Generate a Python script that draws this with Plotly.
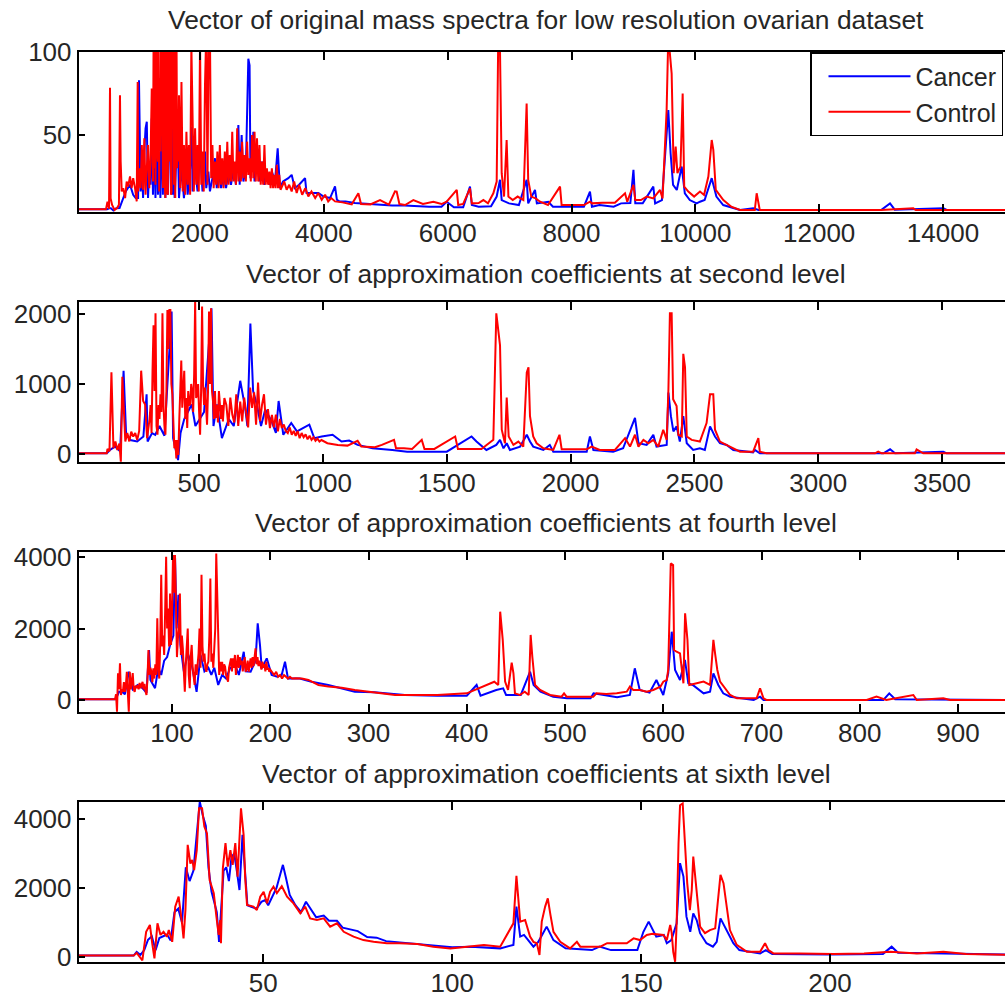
import plotly.graph_objects as go

# ---------------- data ----------------
# Panel 1: original spectra (index, intensity)
P1_CONTROL_X = [1, 480, 505, 530, 546, 556, 580, 620, 660, 690,
                707, 718, 735, 760, 790, 815, 840, 869, 895, 920,
                950, 977, 993,
                1000, 1020, 1040, 1060, 1080, 1100, 1120, 1140, 1160, 1180,
                1200, 1220,
                1240, 1250, 1260, 1270, 1280, 1290, 1300, 1310, 1320, 1330,
                1340, 1350, 1360, 1370, 1380, 1390, 1400, 1410, 1420, 1430,
                1440, 1450, 1460, 1470, 1480, 1490, 1500, 1510, 1520, 1530,
                1540, 1550, 1560, 1570, 1580, 1590, 1600, 1610, 1620, 1630,
                1640, 1650, 1660,
                1680, 1700, 1720, 1740, 1760, 1780,
                1800, 1820, 1840, 1860, 1880, 1900, 1920, 1940, 1960, 1980,
                2000, 2020, 2040, 2060, 2080, 2100, 2120, 2140, 2160, 2180,
                2200, 2220, 2240, 2260, 2280, 2300, 2320, 2340, 2360, 2380,
                2400, 2420, 2440, 2460, 2480, 2500, 2520, 2540, 2560, 2580,
                2600, 2620, 2640, 2660, 2680, 2700, 2720, 2740, 2760, 2780,
                2800, 2820, 2840, 2860, 2880, 2900, 2920, 2940, 2960, 2980,
                3000, 3020, 3040, 3060, 3080, 3100, 3120, 3140, 3160, 3180,
                3200, 3220, 3240, 3260, 3280, 3300,
                3360, 3399, 3440, 3480, 3520, 3561, 3600, 3650, 3700, 3749,
                3800, 3860, 3910, 3965, 4020, 4070, 4120, 4180, 4300,
                4450, 4557, 4600, 4750, 4907, 5050, 5149, 5176, 5220, 5311,
                5445, 5600, 5768, 5900, 5983, 6146, 6170, 6250, 6360, 6390,
                6500, 6576, 6650, 6737, 6791, 6818, 6845, 6872, 6910, 6952,
                6980, 7050, 7130, 7222, 7275, 7300, 7350, 7420, 7492, 7620,
                7814, 7840, 8000, 8200, 8298, 8330, 8500, 8700, 8864, 8900,
                9000, 9030, 9120, 9214, 9320, 9429, 9470, 9536, 9563, 9590,
                9617, 9650, 9682, 9710, 9760, 9795, 9820, 9886, 9980, 10075,
                10140, 10210, 10264, 10290, 10330, 10452, 10580, 10721, 10960, 10990,
                11010, 11040, 12000, 13000, 13520, 13560, 14000, 15154]
P1_CONTROL_Y = [5.2, 5.2, 9.8, 5.5, 78.5, 11.8, 7.8, 4.8, 6, 8,
                74, 34, 16, 18, 12, 22, 19, 25, 18, 24,
                18, 10, 82,
                16, 30, 18, 44, 17, 48, 14, 30, 44, 18,
                34, 78,
                22, 112, 30, 105, 20, 60, 115, 40, 34, 110,
                16, 84, 40, 118, 118, 30, 18, 110, 110, 20,
                12, 120, 120, 15, 14, 125, 125, 34, 108, 14,
                16, 118, 118, 112, 20, 105, 12, 110, 110, 30,
                60, 34, 74,
                18, 82, 16, 44, 14, 52,
                20, 44, 14, 104, 44, 16, 54, 20, 44, 16,
                106, 20, 40, 16, 80, 112, 20, 115, 110, 24,
                44, 18, 34, 20, 40, 18, 44, 20, 36, 18,
                40, 20, 46, 20, 38, 22, 52, 22, 34, 20,
                54, 22, 40, 22, 46, 24, 38, 22, 46, 26,
                36, 22, 50, 24, 52, 22, 48, 22, 44, 20,
                34, 20, 44, 20, 30, 20, 28, 18, 30, 18,
                26, 18, 32, 18, 26, 17,
                22, 17, 20, 16, 22, 15, 20, 14, 18, 13,
                16, 12, 15, 11, 14, 10, 12, 10, 9.4,
                8.2, 14.9, 8.4, 8.2, 10.8, 8, 16, 15.9, 8.4, 7.8,
                10.8, 8.4, 9.8, 8.4, 9.8, 16.9, 7.8, 8.5, 17.9, 8.8,
                9, 10.8, 8.8, 14.9, 21.9, 115, 100, 27, 12.9, 47,
                12.9, 10.8, 12.9, 10.8, 69, 23, 12.9, 11.8, 9.8, 7.8,
                18.9, 7.8, 7.8, 7.8, 9.8, 8.8, 9.2, 9.2, 14.9, 9.8,
                19.9, 10.8, 10.8, 12.9, 11.8, 16.9, 11.8, 65, 110, 100,
                87, 27, 43, 27, 31, 75, 18.9, 15.9, 12.9, 15.9,
                13.9, 25, 47, 41, 16.9, 10.8, 6.8, 4.8, 4.8, 14.9,
                10.8, 4.8, 4.8, 4.8, 5.8, 4.8, 4.8, 4.8]

P1_CANCER_X = [1, 500, 530, 560, 600, 640, 700, 760, 800, 869,
               920, 960,
               1000, 1014, 1040, 1060, 1080, 1100, 1120, 1140, 1160, 1180,
               1200, 1220, 1240, 1260, 1280, 1300, 1320, 1340, 1360, 1380,
               1400, 1420, 1440, 1460, 1480, 1500, 1520, 1540, 1560, 1570,
               1590, 1610, 1640, 1660, 1700, 1740, 1780, 1800, 1840, 1865,
               1880, 1920, 1960, 2000, 2040, 2080, 2100, 2134, 2160, 2200,
               2242, 2270, 2300, 2340, 2380, 2420, 2460, 2500, 2540, 2580,
               2619, 2640, 2672, 2700, 2740, 2780, 2800, 2815, 2840, 2861,
               2880, 2920, 2960, 3000, 3040, 3080, 3120, 3160, 3211, 3254,
               3290, 3340, 3426, 3480, 3530, 3600, 3696,
               3720, 3800, 3911, 3990, 4100, 4180, 4210, 4250, 4350, 4500,
               4700, 4900, 5100, 5300, 5500, 5700, 5900, 5983, 6100, 6250,
               6360, 6390, 6500, 6700, 6791, 6845, 6872, 6990, 7150, 7275,
               7300, 7410, 7440, 7625, 7700, 8200, 8298, 8330, 8450, 8680,
               8800, 8950, 9000, 9030, 9150, 9321, 9350, 9460, 9563, 9600,
               9640, 9700, 9779, 9830, 9910, 10020, 10075, 10150, 10264, 10340,
               10450, 10610, 10721, 10936, 11020, 13000, 13144, 13220, 14005, 14060,
               15154]
P1_CANCER_Y = [5.2, 5.2, 5.8, 5.8, 4.5, 5.8, 6, 12, 16, 20,
               14, 12,
               12, 83, 16, 30, 12, 40, 54, 58, 12, 30,
               20, 60, 14, 50, 12, 60, 14, 40, 12, 70,
               14, 60, 12, 50, 14, 40, 110, 84, 14, 38,
               12, 30, 50, 12, 30, 12, 30, 14, 30, 55,
               16, 30, 16, 40, 16, 40, 18, 28, 16, 24,
               36, 18, 28, 18, 26, 18, 28, 20, 30, 20,
               56, 20, 50, 22, 30, 96, 92, 24, 34, 52,
               22, 34, 22, 34, 20, 28, 20, 28, 22, 42,
               18, 22, 24, 26, 18, 20, 24,
               15, 15, 15, 13, 12, 19, 11, 10, 10, 9,
               8.5, 8, 7.5, 7.5, 7, 6.8, 6.8, 9.8, 6.5, 6.5,
               18.9, 7.8, 6.8, 7, 12.9, 23, 10.8, 8.8, 7.8, 23,
               8.8, 16.9, 8.8, 9.8, 6.8, 6.8, 15.9, 6.8, 7.8, 6.8,
               8.8, 9, 29, 8.8, 8.8, 18.9, 8.8, 10.8, 65, 39,
               19.9, 16.9, 31, 14.9, 10.8, 8.8, 9.8, 10.8, 24, 12.9,
               7.8, 5.8, 4.8, 5.8, 4.8, 4.8, 8.8, 5, 5.8, 4.8,
               4.8]

# Panel 2: approximation coefficients, level 2
P2_CONTROL_X = [1, 127,
                130, 138, 146, 154, 162, 170, 178, 184, 190, 196,
                202, 210, 218, 226, 234, 242, 250, 258, 266, 274,
                282, 290,
                300, 304, 308, 312, 316, 320, 324, 328, 332, 336,
                340, 344, 348, 352, 356, 360, 364, 368, 372, 376,
                380, 384, 388, 392, 396, 400, 404, 408, 412, 416,
                420, 424, 428, 432, 436, 440, 444, 448, 452, 456,
                460, 464, 468, 472, 476, 480, 484, 488, 492, 496,
                500, 504, 508, 512, 516, 520, 524, 528, 532, 536,
                540, 544, 548, 552, 556, 560, 564, 568, 572, 576,
                580, 584, 588, 592, 596,
                602, 610, 618, 626, 634, 642, 650, 658, 666, 674,
                682, 690, 698, 706, 714, 722, 730, 738, 746, 754,
                762, 770, 778, 786, 794, 802, 810, 818, 826, 834,
                842, 850, 858, 866, 874, 882, 890, 898, 906, 914,
                922, 930, 938, 946, 954, 962, 970, 978, 986, 994,
                1018, 1060, 1099, 1140, 1155, 1210,
                1238, 1287, 1295, 1327, 1360, 1399, 1410, 1450, 1534, 1545,
                1600, 1640, 1688, 1700, 1715, 1722, 1735, 1742, 1750, 1769,
                1789, 1809, 1823, 1830, 1836, 1849, 1863, 1890, 1930, 1955,
                1964, 2065, 2085, 2118, 2179, 2220, 2240, 2260, 2274, 2294,
                2314, 2334, 2354, 2374, 2388, 2395, 2401, 2408, 2414, 2421,
                2428, 2435, 2449, 2455, 2462, 2469, 2489, 2522, 2549, 2563,
                2576, 2583, 2603, 2643, 2684, 2737, 2751, 2758, 2764, 2791,
                3229, 3242, 3256, 3390, 3397, 3410, 3424, 3790]
P2_CONTROL_Y = [10, 10,
                72, 40, 1166, 82, 178, 58, 150, -110, 1104, 515,
                178, 300, 180, 320, 250, 300, 200, 330, 1190, 757,
                708, 226,
                500, 700, 300, 1200, 1840, 900, 2010, 400, 275, 700,
                500, 853, 600, 2010, 700, 400, 275, 900, 2058, 1500,
                2058, 2058, 1000, 853, 300, 82, 200, -63, 200, -14,
                500, 900, 1335, 660, 900, 1190, 500, 800, 371, 900,
                700, 708, 1000, 901, 600, 1142, 2193, 800, 853, 1000,
                600, 275, 900, 2106, 1000, 700, 949, 600, 419, 900,
                2034, 1000, 2082, 900, 757, 500, 900, 515, 700, 450,
                900, 708, 500, 700, 467,
                800, 700, 400, 805, 564, 450, 853, 400, 750, 467,
                805, 564, 380, 949, 660, 880, 420, 1022, 467, 700,
                853, 420, 640, 371, 560, 380, 564, 323, 500, 371,
                420, 330, 300, 380, 275, 330, 260, 330, 226, 300,
                240, 280, 210, 260, 202, 240, 190, 220, 178, 200,
                154, 130, 120, 188, 106, 96,
                130, 202, 82, 82, 72, 202, 72, 72, 250, 72,
                72, 72, 202, 2010, 1552, 347, 154, 805, 250, 130,
                178, 106, 1166, 1239, 540, 250, 154, 82, 58, 275,
                67, 67, 106, 58, 58, 226, 106, 275, 106, 202,
                154, 202, 106, 347, 202, 925, 2010, 2010, 781, 733,
                684, 275, 250, 1431, 1239, 250, 202, 178, 443, 853,
                853, 347, 178, 106, 34, 34, 154, 226, 34, 10,
                10, 34, 10, 10, 67, 34, 10, 10]

P2_CANCER_X = [1, 127, 140, 160, 181, 195, 205, 222, 250, 275,
               288, 292, 310, 323, 340, 360, 389, 395, 415, 425,
               440, 470, 485, 520, 550, 558, 572, 592, 620, 640,
               666, 686, 695, 707, 718, 733, 750, 767, 793, 810,
               821, 840, 872, 895, 945, 965, 995, 1039, 1075, 1106,
               1140, 1200, 1280, 1340, 1400, 1500, 1600, 1620, 1660, 1700,
               1715, 1729, 1742, 1755, 1796, 1823, 1836, 1849, 1890, 1916,
               1930, 2065, 2078, 2092, 2172, 2212, 2260, 2274, 2307, 2334,
               2347, 2388, 2395, 2405, 2415, 2428, 2441, 2455, 2469, 2495,
               2522, 2542, 2563, 2583, 2603, 2630, 2657, 2737, 2744, 2764,
               3263, 3290, 3310, 3505, 3518, 3790]
P2_CANCER_Y = [10, 10, 58, 106, 40, 1190, 300, 200, 180, 250,
               853, 178, 300, 275, 400, 260, 2034, 226, -87, 300,
               500, 708, 400, 600, 2082, 400, 708, 226, 500, 400,
               1046, 660, 400, 1865, 901, 708, 400, 636, 467, 300,
               757, 275, 443, 323, 419, 226, 250, 275, 178, 193,
               130, 82, 58, 34, 34, 34, 250, 178, 58, 130,
               202, 82, 154, 58, 106, 275, 178, 106, 58, 130,
               34, 34, 250, 58, 34, 82, 516, 154, 130, 275,
               106, 130, 877, 540, 323, 395, 178, 540, 154, 58,
               82, 58, 395, 250, 154, 130, 58, 24, 58, 10,
               10, 67, 10, 34, 10, 10]

# Panel 3: approximation coefficients, level 4
P3_CONTROL_X = [1, 42, 43, 44, 45, 46, 47, 48, 49, 50,
                51, 52, 53, 54, 55, 56, 57, 58, 59, 60,
                61, 62, 63, 64, 65, 66, 67, 68, 69, 70,
                71, 72, 73, 74, 75, 76, 77, 78, 79, 80,
                81, 82, 83, 84, 85, 86, 87, 88, 89, 90,
                91, 92, 93, 94, 95, 96, 97, 98, 99, 100,
                101, 102, 103, 104, 105, 106, 107, 108, 109, 110,
                111, 112, 113, 114, 115, 116, 117, 118, 119, 120,
                121, 122, 123, 124, 125, 126, 127, 128, 129, 130,
                131, 132, 133, 134, 135, 136, 137, 138, 139, 140,
                141, 142, 143, 144, 145, 146, 147, 148, 149, 150,
                151, 152, 153, 154, 155, 156, 157, 158, 159, 160,
                161, 162, 163, 164, 165, 166, 167, 168, 169, 170,
                171, 172, 173, 174, 175, 176, 177, 178, 179, 180,
                181, 182, 183, 184, 185, 186, 187, 188, 189, 190,
                191, 192, 193, 194, 195, 196, 197, 198, 199, 200,
                202, 204, 206, 208, 210, 212, 214, 216, 218, 220,
                222, 226, 232,
                238.8, 249, 259, 272.7, 286, 299.8, 313, 327, 337, 370,
                400, 428, 432, 434, 436.6, 439, 442, 445.7, 447.5, 449,
                454, 459, 463, 465, 466.7, 469.5, 474.6, 484.7, 496.5, 499,
                501.5, 528.7, 532, 542, 552.6, 562.8, 566, 569.5, 576.2, 583,
                589.8, 597, 600, 603.5, 605, 607.6, 610, 611, 613.5, 617,
                620.5, 622.2, 624.6, 626.5, 634, 641, 647.6, 651, 652.7, 655,
                657.8, 662.8, 668, 675, 695, 698.5, 702, 705, 807, 817,
                827, 854.5, 858, 885, 892, 950]
P3_CONTROL_Y = [20, 20, 160, -330, 750, 300, 1025, 140, 300, 230,
                500, 230, 400, 790, 200, -330, 790, 300, 500, 750,
                300, 230, 400, 330, 420, 300, 480, 330, 420, 510,
                300, 450, 250, 140, 600, 1400, 700, 900, 790, 500,
                885, 600, 1000, 700, 2285, 900, 600, 1600, 3500, 1500,
                1800, 1260, 2500, 4010, 2000, 2560, 1500, 2980, 1540, 2400,
                4055, 3000, 4055, 2470, 1200, 1725, 2000, 2980, 1260, 1800,
                1445, 800, 230, 1000, 1500, 2000, 700, 330, 1200, 1540,
                900, 600, 420, 1000, 700, 980, 1300, 2000, 900, 3500,
                1500, 1070, 1300, 900, 790, 1000, 1070, 1800, 3400, 1070,
                1300, 900, 1400, 2000, 4100, 3030, 2000, 700, 1070, 800,
                1070, 700, 1000, 930, 700, 600, 510, 900, 1000, 1165,
                800, 1165, 900, 1260, 700, 1000, 1260, 900, 1200, 980,
                1100, 800, 1070, 1200, 790, 900, 1100, 790, 1000, 1165,
                900, 1200, 950, 1300, 1445, 1000, 1200, 950, 1100, 980,
                850, 1070, 900, 1000, 800, 1070, 850, 900, 790, 850,
                790, 700, 790, 650, 700, 600, 700, 650, 600, 650,
                600, 610, 600,
                560, 420, 375, 345, 280, 230, 186, 140, 140, 140,
                186, 510, 420, 2470, 1680, 513, 280, 1045, 745, 186,
                140, 233, 140, 1820, 1210, 420, 280, 140, 93, 186,
                93, 93, 186, 168, 186, 233, 373, 280, 280, 233,
                280, 373, 513, 560, 840, 3820, 3775, 1400, 1350, 1305,
                466, 2424, 1680, 420, 466, 513, 420, 1680, 1305, 840,
                513, 326, 140, 47, 47, 326, 47, 0, 0, 93,
                0, 140, 0, 47, 0, 0]

P3_CANCER_X = [1, 42, 44, 46, 49, 52, 56, 60, 65, 70,
               74, 76.6, 78, 82.7, 86, 89, 92, 95, 98, 101.4,
               103, 104.7, 106.5, 108.5, 112, 116, 120, 125, 129, 133,
               137, 140, 143, 147, 151, 155, 159, 164, 168, 173,
               175, 180, 185, 187.2, 189.5, 191.3, 196.4, 201.4, 207, 211.6,
               215, 218, 230, 242, 259, 272.7, 286, 306, 337, 370,
               400, 410, 414, 430, 437, 440, 455, 464.4, 468, 475,
               488, 502, 526, 529, 539, 553, 566, 571, 576, 586,
               593, 600, 605, 608.6, 612, 617, 622, 625.5, 630, 641,
               647.6, 651, 656, 661, 668, 692, 698.5, 702, 824, 830,
               836, 950]
P3_CANCER_Y = [20, 20, 100, 230, 230, 160, 790, 300, 420, 330,
               200, 1400, 560, 330, 900, 700, 1100, 1200, 1540, 1800,
               4055, 2000, 2940, 1540, 800, 1300, 1000, 230, 1260, 800,
               900, 700, 900, 420, 700, 600, 885, 1000, 700, 1350,
               800, 790, 1100, 2145, 1540, 885, 1165, 700, 650, 700,
               1070, 600, 600, 510, 420, 330, 230, 214, 140, 120,
               120, 420, 120, 280, 326, 140, 140, 793, 420, 233,
               93, 47, 47, 186, 140, 75, 140, 886, 280, 205,
               560, 140, 746, 1910, 840, 560, 1120, 466, 420, 186,
               233, 746, 420, 186, 93, 0, 93, 0, 0, 186,
               19, 0]

# Panel 4: approximation coefficients, level 6
P4_CONTROL_X = [1, 15.7, 16.5, 18, 19, 20, 20.6, 21.2, 22, 22.8,
                23.6, 24.5, 25, 25.9, 26.7, 27.6, 28.5, 28.9, 29.4, 30,
                30.7, 31.2, 31.7, 32.4, 33, 33.8, 34.4, 35.1, 35.8, 36.9,
                37.6, 38.2, 38.6, 38.8, 39.3, 40, 40.6, 41.3, 41.9, 42.6,
                43.2, 43.7, 44.1, 44.8, 45.2, 45.7, 47.4, 48.3, 49.2, 50.1,
                51, 51.8, 52.7, 53.6, 54.9, 56.3, 58, 59.8, 61.1, 62.4,
                64.2, 66, 67.7, 69.5, 71.3, 73.9, 76.5, 79.2, 82.7, 86,
                90.8, 95, 99.5, 104, 108.4, 112.7, 116.2, 117, 117.5, 118,
                119.3, 120.6, 121.5, 122.4, 123.1, 123.7, 124.6, 125.3, 126, 126.8,
                128.6, 131.2, 133, 133.9, 139.2, 141, 146.2, 148, 149.7, 151.5,
                153, 155.9, 156.8, 157.7, 158.1, 158.5, 159, 159.4, 159.9, 160.3,
                161, 161.6, 162.2, 162.9, 163.4, 163.8, 164.7, 165.6, 166.9, 168.2,
                169.6, 170.5, 171, 171.8, 172.7, 173.5, 175.3, 178, 181.5, 182.8,
                183.7, 185, 192, 200.9, 209, 216, 223, 230, 236, 249]
P4_CONTROL_Y = [40, 40, 120, -100, 730, 930, 400, -40, 975, 640,
                730, 590, 780, 440, 1460, 1750, 975, 540, 1360, 3250,
                2710, 2810, 2520, 3100, 4310, 4310, 3780, 3580, 2230, 1850,
                1170, 640, 1070, 400, 2570, 3300, 2620, 3100, 2670, 3300,
                2330, 3730, 4310, 3540, 2330, 1510, 1460, 1360, 1750, 1890,
                1555, 1890, 2040, 1850, 2050, 1750, 1555, 1265, 1460, 1120,
                1070, 1120, 880, 975, 730, 590, 490, 440, 400, 400,
                380, 300, 250, 300, 350, 300, 975, 2350, 1650, 1025,
                1070, 590, 440, 400, 60, 1025, 1460, 1700, 1220, 730,
                440, 250, 440, 300, 300, 400, 400, 540, 490, 640,
                670, 640, 490, 930, 690, 150, -140, 975, 3300, 4400,
                4450, 3390, 2140, 1360, 1940, 2910, 1940, 880, 690, 780,
                830, 1940, 2380, 2140, 1460, 780, 350, 150, 150, 400,
                200, 105, 105, 85, 105, 150, 105, 150, 85, 60]

P4_CANCER_X = [1, 15.7, 16.5, 17.5, 18.5, 19.5, 20.5, 21.5, 22.5, 23.5,
               24.5, 25.5, 26.5, 27.5, 28.5, 29.5, 30.5, 31.5, 32.5, 33.2,
               34, 34.8, 35.5, 36.3, 37, 37.7, 38.3, 38.9, 39.5, 40.2,
               40.9, 41.6, 42.3, 43, 43.7, 44.5, 45.2, 45.8, 47, 48.2,
               49.5, 50.5, 51.3, 52.5, 53.5, 54.5, 55.2, 56, 57, 58.5,
               60, 61.3, 62.6, 64, 66, 67.4, 69.5, 71, 73, 75,
               77.5, 80, 82.5, 86, 90, 95, 100, 105, 110, 112.7,
               116.2, 117, 118, 119, 121.5, 122.8, 125, 126.8, 130, 137,
               139, 142, 149, 150.6, 152, 154, 156, 156.8, 158, 159.4,
               160.3, 161.2, 162, 163, 163.8, 164.7, 165.6, 167.3, 169, 170,
               171, 172.7, 174.4, 176, 181.5, 183, 184.7, 200, 214, 216.3,
               218, 249]
P4_CANCER_Y = [40, 40, 150, 60, 200, 500, 600, 200, 550, 600,
               650, 480, 1300, 1400, 1000, 2600, 2200, 2500, 3800, 4500,
               4100, 3800, 2600, 1900, 1600, 1300, 440, 1400, 2500, 2600,
               2200, 2900, 3000, 2500, 1940, 3540, 2400, 1500, 1450, 1400,
               1600, 1650, 1500, 1800, 2000, 2400, 2670, 2300, 1800, 1500,
               1300, 1600, 1400, 1150, 1200, 1050, 1050, 850, 800, 750,
               580, 560, 460, 420, 380, 320, 280, 300, 280, 250,
               350, 1460, 590, 640, 300, 440, 880, 490, 250, 200,
               300, 200, 200, 730, 1025, 590, 640, 400, 490, 975,
               2720, 2330, 1170, 730, 1265, 1070, 690, 400, 300, 440,
               1120, 780, 400, 200, 105, 200, 85, 70, 90, 300,
               125, 70]

SERIES_NAMES = ["Cancer", "Control"]
SERIES_COLORS = ["#0000FF", "#FF0000"]

TITLES = ["Vector of original mass spectra for low resolution ovarian dataset",
          "Vector of approximation coefficients at second level",
          "Vector of approximation coefficients at fourth level",
          "Vector of approximation coefficients at sixth level"]

X_TICKS = [[2000, 4000, 6000, 8000, 10000, 12000, 14000],
           [500, 1000, 1500, 2000, 2500, 3000, 3500],
           [100, 200, 300, 400, 500, 600, 700, 800, 900],
           [50, 100, 150, 200]]
Y_TICKS = [[50, 100], [0, 1000, 2000], [0, 2000, 4000], [0, 2000, 4000]]

X_RANGES = [[37, 15001], [13, 3754], [4.8, 947.8], [1.1, 246.3]]
Y_RANGES = [[3.6, 100.05], [-114, 2171], [-336, 4140], [-145, 4493]]

# ---------------- layout geometry (pixels) ----------------
W, H = 1005, 997
LEFT_PX = 78.5
PANEL_PX = [(52, 212), (302, 462), (552, 712), (802, 962)]
TITLE_PX = [20, 274, 523, 774]

FONT = "Liberation Sans, Arial, Helvetica, sans-serif"
TXT = "#262626"

panels = [
    (P1_CANCER_X, P1_CANCER_Y, P1_CONTROL_X, P1_CONTROL_Y),
    (P2_CANCER_X, P2_CANCER_Y, P2_CONTROL_X, P2_CONTROL_Y),
    (P3_CANCER_X, P3_CANCER_Y, P3_CONTROL_X, P3_CONTROL_Y),
    (P4_CANCER_X, P4_CANCER_Y, P4_CONTROL_X, P4_CONTROL_Y),
]

fig = go.Figure()
for i, (cx, cy, kx, ky) in enumerate(panels):
    assert len(cx) == len(cy), (i, "cancer", len(cx), len(cy))
    assert len(kx) == len(ky), (i, "control", len(kx), len(ky))
    suffix = "" if i == 0 else str(i + 1)
    for j, (xs, ys) in enumerate([(cx, cy), (kx, ky)]):
        fig.add_trace(go.Scatter(
            x=xs, y=ys, mode="lines", name=SERIES_NAMES[j],
            line=dict(color=SERIES_COLORS[j], width=2),
            xaxis="x" + suffix, yaxis="y" + suffix,
            showlegend=(i == 0), hoverinfo="skip"))

layout = dict(
    width=W, height=H, margin=dict(l=0, r=0, t=0, b=0, autoexpand=False),
    paper_bgcolor="white", plot_bgcolor="white",
    font=dict(family=FONT, size=25, color=TXT),
    showlegend=True,
    legend=dict(x=1003 / W, xanchor="right", y=1 - PANEL_PX[0][0] / H, yanchor="top",
                bgcolor="white", bordercolor="black", borderwidth=1.5,
                font=dict(family=FONT, size=25, color=TXT),
                itemwidth=82, indentation=12, tracegroupgap=0),
)
annotations = []
for i in range(4):
    suffix = "" if i == 0 else str(i + 1)
    top, bot = PANEL_PX[i]
    layout["xaxis" + suffix] = dict(
        domain=[LEFT_PX / W, 1.0], range=X_RANGES[i], anchor="y" + suffix,
        showline=True, linecolor="black", linewidth=1.5, mirror="ticks",
        ticks="inside", ticklen=8, tickwidth=1.5, tickcolor="black",
        tickvals=X_TICKS[i], ticktext=[str(v) for v in X_TICKS[i]],
        tickfont=dict(family=FONT, size=26, color=TXT), ticklabelstandoff=-3,
        showgrid=False, zeroline=False, fixedrange=True, automargin=False)
    layout["yaxis" + suffix] = dict(
        domain=[1 - bot / H, 1 - top / H], range=Y_RANGES[i], anchor="x" + suffix,
        showline=True, linecolor="black", linewidth=1.5, mirror=False,
        ticks="inside", ticklen=7, tickwidth=1.5, tickcolor="black",
        tickvals=Y_TICKS[i], ticktext=[str(v) for v in Y_TICKS[i]],
        tickfont=dict(family=FONT, size=26, color=TXT),
        showgrid=False, zeroline=False, fixedrange=True, automargin=False)
    annotations.append(dict(
        text=TITLES[i], xref="paper", yref="paper",
        x=546 / W, y=1 - TITLE_PX[i] / H, xanchor="center", yanchor="middle",
        showarrow=False, font=dict(family=FONT, size=26.4, color=TXT)))
layout["annotations"] = annotations
fig.update_layout(**layout)

fig.write_html("out.html",
               config={"displayModeBar": False, "responsive": False},
               post_script="document.body.style.margin='0';"
                           "document.body.style.overflow='hidden';")
